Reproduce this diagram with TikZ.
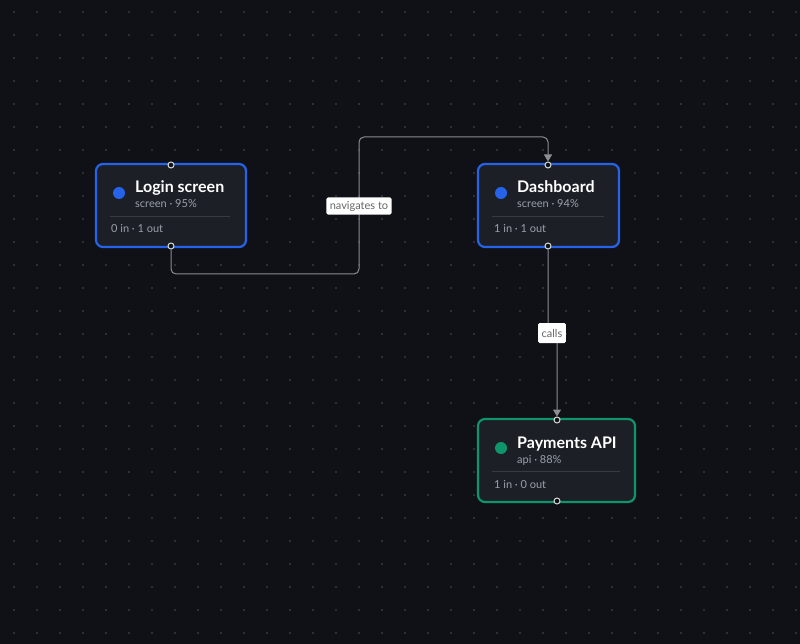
\documentclass[tikz,border=0pt]{standalone}
\usepackage{fontspec}
\setmainfont{Lato}
\usetikzlibrary{arrows.meta,positioning}
\definecolor{bgcol}{HTML}{0F1116}
\definecolor{cardcol}{HTML}{1C1F26}
\definecolor{bluecol}{HTML}{2563EB}
\definecolor{greencol}{HTML}{10956B}
\definecolor{subcol}{HTML}{9AA0AA}
\definecolor{edgecol}{HTML}{8A8D93}
\definecolor{dotcol}{HTML}{4A4E56}
\tikzset{
  card/.style={draw=#1, line width=2.2pt, fill=cardcol, rounded corners=7pt},
  handle/.style={circle, draw=white!85!black, fill=bgcol, line width=1pt, inner sep=0pt, minimum size=6pt},
  title/.style={anchor=base west, text=white, inner sep=0pt, font=\bfseries\fontsize{16}{18}\selectfont},
  sub/.style={anchor=base west, text=subcol, inner sep=0pt, font=\fontsize{11}{13}\selectfont},
  edge/.style={draw=edgecol, line width=1pt, rounded corners=5pt},
  elabel/.style={fill=white, rounded corners=1.5pt, text=black!60, inner sep=3.5pt, font=\fontsize{11}{13}\selectfont}
}
\begin{document}
\begin{tikzpicture}[x=1pt,y=-1pt]
  \fill[bgcol] (0,0) rectangle (800,644);
  \useasboundingbox (0,0) rectangle (800,644);
  % dot grid
  \foreach \x in {0,23,...,800} \foreach \y in {0,23,...,644}
    \fill[dotcol] (\x+14,\y+12) circle (0.9);

  % cards
  \draw[card=bluecol] (96,164) rectangle (246,247);
  \draw[card=bluecol] (478,164) rectangle (619,247);
  \draw[card=greencol] (478,419) rectangle (635,502);

  % login
  \fill[bluecol] (119,193) circle (6);
  \node[title] (logint) at (135,193) {Login screen};
  \node[sub] (logins) at (135,208) {screen · 95\%};
  \draw[white!12!cardcol] (110,216) -- (230,216);
  \node[sub] (loginc) at (111,233) {0 in · 1 out};

  % dashboard
  \fill[bluecol] (501,193) circle (6);
  \node[title] (dasht) at (517,193) {Dashboard};
  \node[sub] (dashs) at (517,208) {screen · 94\%};
  \draw[white!12!cardcol] (492,216) -- (604,216);
  \node[sub] (dashc) at (494,233) {1 in · 1 out};

  % payments
  \fill[greencol] (501,448) circle (6);
  \node[title] (payt) at (517,448) {Payments API};
  \node[sub] (pays) at (517,463) {api · 88\%};
  \draw[white!12!cardcol] (492,471) -- (620,471);
  \node[sub] (payc) at (494,488) {1 in · 0 out};

  % handles
  \node[handle] (loginin) at (171,165) {};
  \node[handle] (loginout) at (171,246) {};
  \node[handle] (dashin) at (548,165) {};
  \node[handle] (dashout) at (548,246) {};
  \node[handle] (payin) at (557,420) {};
  \node[handle] (payout) at (557,501) {};

  % edges
  \draw[edge, -{Triangle[length=7pt,width=8pt]}] (loginout) |- (359,274) -- (359,137) -| (dashin);
  \node[elabel] (navlabel) at (359,206) {navigates to};
  \draw[edge, -{Triangle[length=7pt,width=8pt]}] (dashout) -- (548,333) -- (557,333) -- (payin);
  \node[elabel, minimum height=20pt] (callslabel) at (552,333) {calls};
\end{tikzpicture}
\end{document}
